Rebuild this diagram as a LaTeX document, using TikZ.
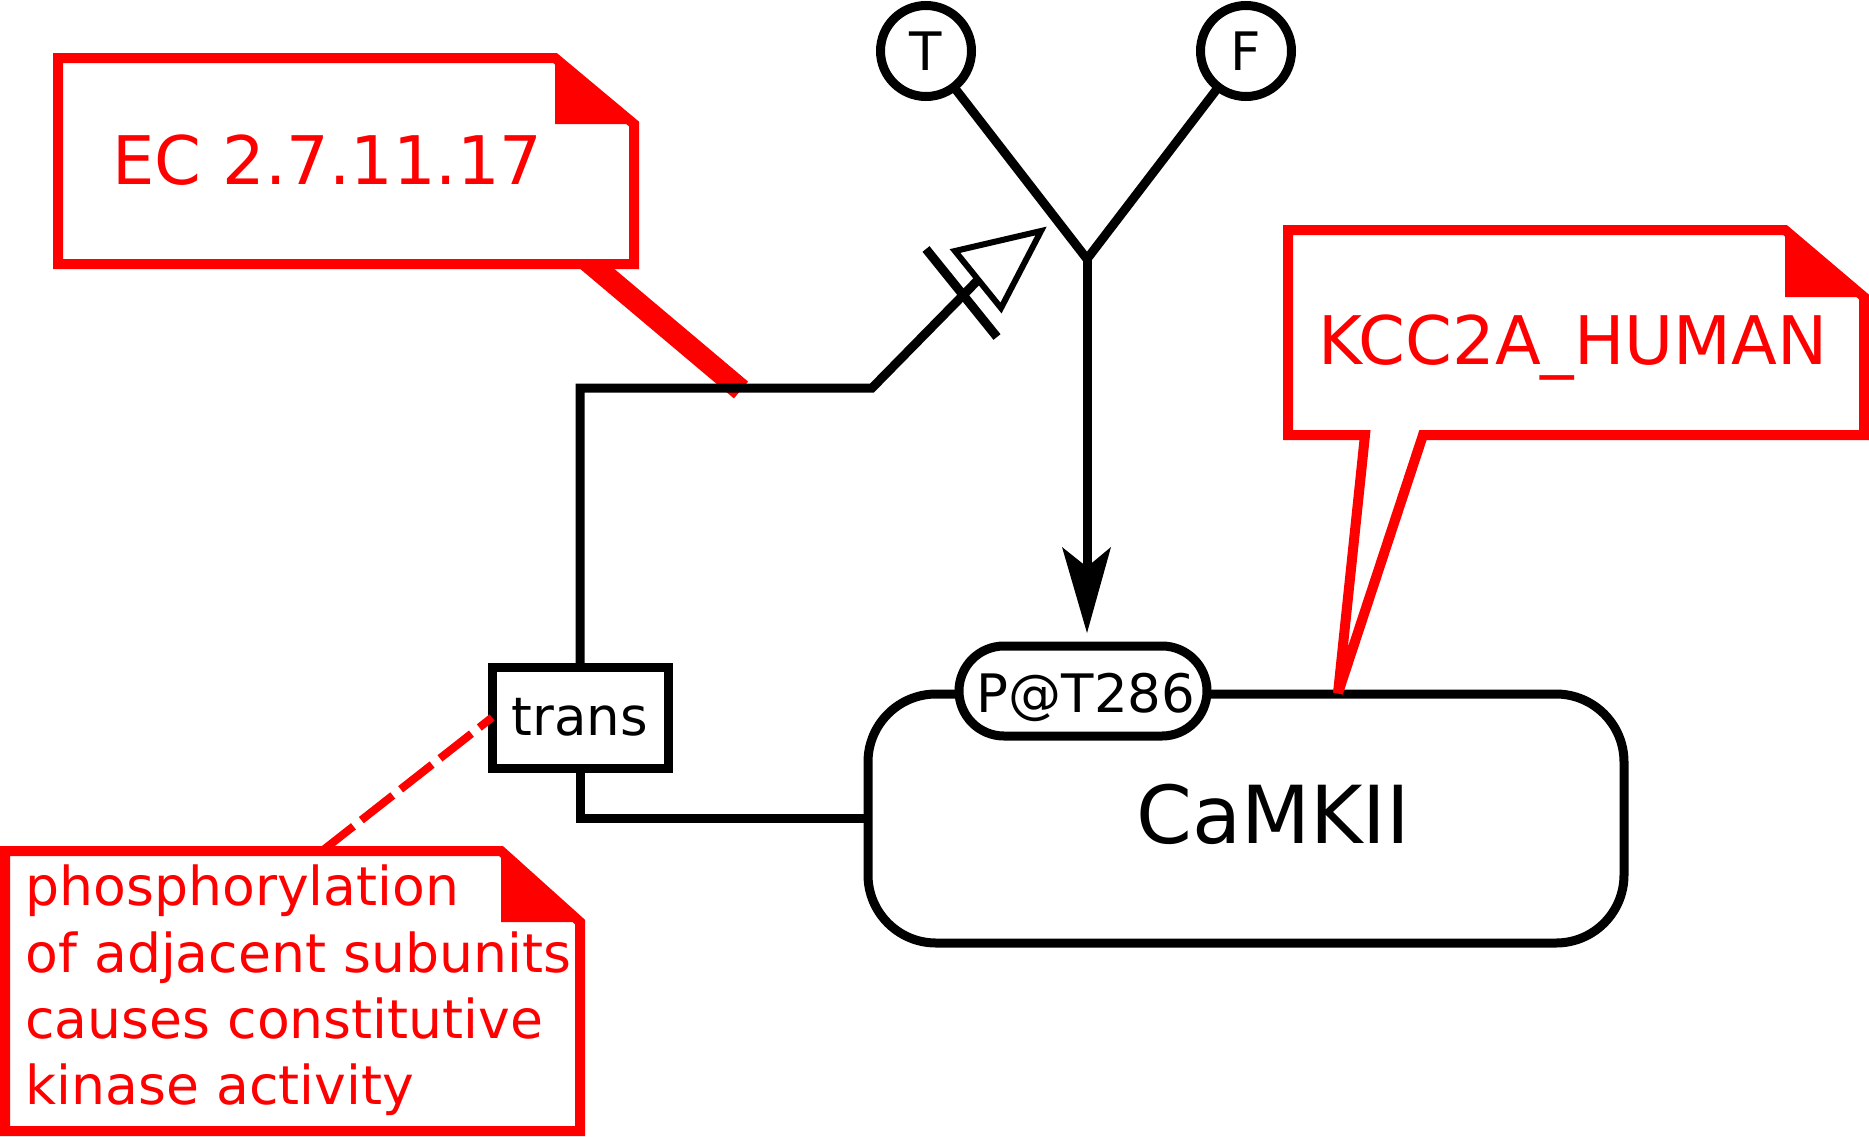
\documentclass[tikz,border=0pt]{standalone}
\usepackage{fontspec}
\setmainfont{DejaVu Sans}
\begin{document}
\begin{tikzpicture}[x=1pt,y=-1pt,
  blk/.style={draw=black,line width=9pt},
  notebox/.style={draw=red,line width=10pt,fill=white,miter limit=3},
  foldfill/.style={fill=red},
  bigred/.style={font=\fontsize{67}{80}\selectfont,text=red,inner sep=0pt,outer sep=0pt,anchor=base},
  smallred/.style={font=\fontsize{53.6}{66}\selectfont,text=red,inner sep=0pt,outer sep=0pt,anchor=base west},
  smallblk/.style={font=\fontsize{53}{64}\selectfont,inner sep=0pt,outer sep=0pt,anchor=base},
  every node/.style={outer sep=0pt,inner sep=0pt}]
\useasboundingbox (0,0) rectangle (1869,1136);

% EC annotation connector
\coordinate (ecroot) at (576,251);
\coordinate (ectip) at (741,390);
\draw[red,line width=22pt] (ecroot) -- (ectip);

% EC note
\draw[notebox] (58,58) -- (555,58) -- (634,124) -- (634,264) -- (58,264) -- cycle;
\fill[foldfill] (555,58) -- (555,124) -- (634,124) -- cycle;
\node[bigred] (ec) at (327.5,184) {EC 2.7.11.17};

% trans box
\node[blk,fill=white,minimum width=176pt,minimum height=101pt,font=\fontsize{53}{64}\selectfont] (trans) at (580,717.5) {trans};

% modulation arc from trans
\coordinate (c1) at (580,388);
\coordinate (c2) at (872,388);
\coordinate (modbase) at (978,280);
\draw[blk] (trans.north) -- (c1) -- (c2) -- (modbase);
\coordinate (barA) at (926,249);
\coordinate (barB) at (997,337);
\draw[line width=9pt] (barA) -- (barB);
\coordinate (triA) at (955,251);
\coordinate (triTip) at (1041,231);
\coordinate (triB) at (1001,308);
\draw[line width=6pt,fill=white] (triA) -- (triTip) -- (triB) -- cycle;

% logic circles and junction
\node[blk,circle,fill=white,minimum size=91pt,font=\fontsize{53}{64}\selectfont] (T) at (926,51) {T};
\node[blk,circle,fill=white,minimum size=91pt,font=\fontsize{53}{64}\selectfont] (F) at (1246,51) {F};
\coordinate (J) at (1087,259);
\draw[blk] (T) -- (J) -- (F);
\coordinate (pnotch) at (1087,567);
\coordinate (ptip) at (1087,633);
\draw[blk] (J) -- (pnotch);
\fill (ptip) -- ++(-25,-86) -- ++(25,20) -- ++(24,-20) -- cycle;

% CaMKII
\node[blk,fill=white,rounded corners=68pt,minimum width=756pt,minimum height=249pt] (camk) at (1246,818.5) {};
\node[font=\fontsize{80}{96}\selectfont,anchor=base] (camklbl) at (1273,843) {CaMKII};
\coordinate (c3) at (580,818.5);
\draw[blk] (trans.south) -- (c3) -- (camk.west);

% unit of information
\node[blk,fill=white,rounded corners=45pt,minimum width=248pt,minimum height=90pt] (pt) at (1083,691) {};
\node[smallblk] (ptlbl) at (1086,712) {P@T286};

% KCC2A note with pointer
\draw[notebox] (1288,230) -- (1785,230) -- (1864,297) -- (1864,435) -- (1423,435) -- (1338,693) -- (1365,435) -- (1288,435) -- cycle;
\fill[foldfill] (1785,230) -- (1785,297) -- (1864,297) -- cycle;
\node[bigred] (kcc) at (1573,364) {KCC2A\_HUMAN};

% phosphorylation note
\coordinate (phostop) at (322,851);
\draw[red,line width=8pt,dash pattern=on 40pt off 10pt] (phostop) -- (trans.west);
\draw[notebox] (5,851) -- (501,851) -- (580,922) -- (580,1131) -- (5,1131) -- cycle;
\fill[foldfill] (501,851) -- (501,922) -- (580,922) -- cycle;
\node[smallred] (ph1) at (25.5,905) {phosphorylation};
\node[smallred] (ph2) at (25.5,972) {of adjacent subunits};
\node[smallred] (ph3) at (25.5,1038) {causes constitutive};
\node[smallred] (ph4) at (25.5,1104) {kinase activity};
\end{tikzpicture}
\end{document}
